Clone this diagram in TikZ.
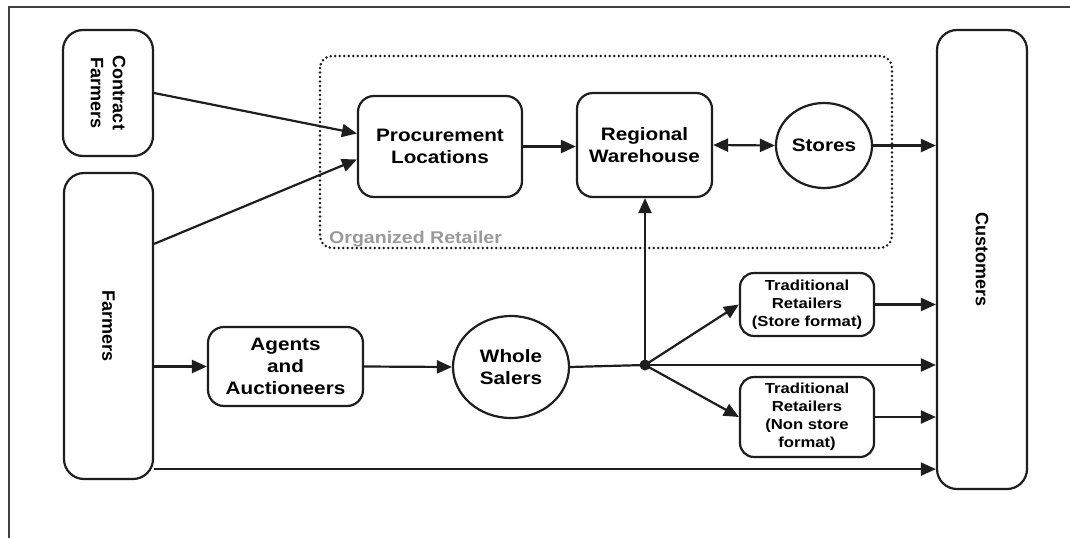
\documentclass[tikz,border=0pt]{standalone}
\usepackage{fontspec}
\usetikzlibrary{arrows.meta,shapes.geometric,calc}
\newfontfamily\labfont[FakeStretch=1.15]{Liberation Sans}
\newfontfamily\labrot{Liberation Sans}
\definecolor{ink}{HTML}{1E1E1E}
\definecolor{softgray}{HTML}{9A9A9A}
\begin{document}
\begin{tikzpicture}[x=1pt,y=-1pt,
  box/.style={draw=ink, line width=2.2pt, rounded corners=16pt, align=center,
    inner sep=0pt, font=\labfont\bfseries\fontsize{18}{22}\selectfont},
  smallbox/.style={box, rounded corners=14pt, font=\labfont\bfseries\fontsize{14.5}{18}\selectfont},
  oval/.style={draw=ink, line width=2.2pt, ellipse, align=center, inner sep=0pt,
    font=\labfont\bfseries\fontsize{18}{22}\selectfont},
  vlabel/.style={rotate=-90, align=center, font=\labrot\bfseries\fontsize{18}{22}\selectfont},
  tip/.tip={Triangle[length=15pt,width=13pt]},
  flow/.style={draw=ink, line width=2.2pt, -tip},
  link/.style={draw=ink, line width=2.2pt}]

\useasboundingbox (0,0) rectangle (1070,538);
\fill[white] (0,0) rectangle (1070,538);

% outer frame
\draw[line width=2.2pt, black!75] (9,538) -- (9,7) -- (1070,7);

% organized retailer group
\draw[ink, line width=2.8pt, line cap=round, dash pattern=on 0pt off 4.5pt, rounded corners=12pt]
  (320,56) rectangle (892,248);
\node[anchor=base west, text=softgray, inner sep=0pt,
  font=\labfont\bfseries\fontsize{17}{20}\selectfont] (org) at (329,243) {Organized Retailer};

% sources
\node[box, rounded corners=20pt, minimum width=90pt, minimum height=126pt] (cf) at (108,93) {};
\node[vlabel] at (cf.center) {Contract\\Farmers};
\node[box, rounded corners=20pt, minimum width=89pt, minimum height=306pt] (fa) at (108.5,326) {};
\node[vlabel] at (fa.center) {Farmers};

% organized retail chain
\node[box, minimum width=164pt, minimum height=101pt] (pl) at (440,146.5) {Procurement\\Locations};
\node[box, minimum width=135pt, minimum height=104pt] (rw) at (644.5,145) {Regional\\Warehouse};
\node[oval, minimum width=96pt, minimum height=85pt] (st) at (824,145.5) {Stores};

% customers
\node[box, rounded corners=20pt, minimum width=90pt, minimum height=459pt] (cu) at (982,259.5) {};
\node[vlabel] at (cu.center) {Customers};

% traditional chain
\node[box, minimum width=155pt, minimum height=79pt] (ag) at (285.5,366.5) {Agents\\and\\Auctioneers};
\node[oval, minimum width=116pt, minimum height=102pt] (ws) at (511,367) {Whole\\Salers};
\coordinate (j) at (645,365);
\fill[ink] (j) circle (5.5pt);
\node[smallbox, minimum width=134pt, minimum height=63pt] (ts) at (807,304.5) {Traditional\\Retailers\\(Store format)};
\node[smallbox, minimum width=134pt, minimum height=80pt] (tn) at (807,417) {Traditional\\Retailers\\(Non store\\format)};

% connector end points on the source boxes
\coordinate (cfout) at (cf.east);
\coordinate (faup) at ($(fa.north east)+(0,72)$);
\coordinate (falow) at ($(fa.south east)+(0,-11)$);
\coordinate (plin1) at ($(pl.west)+(0,-13)$);
\coordinate (plin2) at ($(pl.west)+(0,13)$);

% connectors
\draw[flow] (cfout) -- (plin1);
\draw[flow] (faup) -- (plin2);
\draw[flow] (pl.east) -- (pl.east -| rw.west);
\draw[flow, tip-tip] (rw.east) -- (st.west);
\draw[flow] (st.east) -- (st.east -| cu.west);
\draw[flow] (fa.east |- ag.west) -- (ag.west);
\draw[flow] (ag.east) -- (ws.west);
\draw[link] (ws.east) -- (j);
\draw[flow] (j) -- (j |- rw.south);
\draw[flow] (j) -- (j -| cu.west);
\draw[flow] (j) -- (ts.west);
\draw[flow] (j) -- (tn.west);
\draw[flow] (ts.east) -- (ts.east -| cu.west);
\draw[flow] (tn.east) -- (tn.east -| cu.west);
\draw[flow] (falow) -- (falow -| cu.west);
\end{tikzpicture}
\end{document}
